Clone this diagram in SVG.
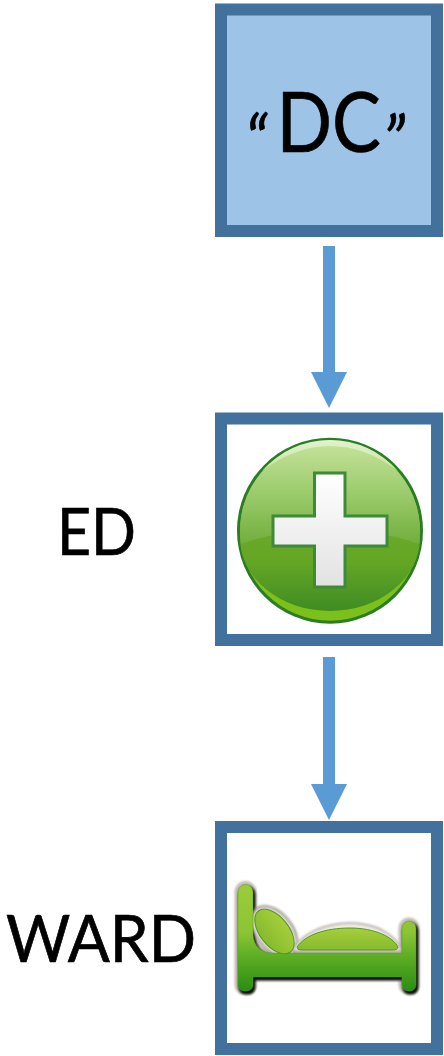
<svg xmlns="http://www.w3.org/2000/svg" width="444" height="1056" viewBox="0 0 444 1056">
<style>
.box{stroke:#41719c;stroke-width:12;fill:#fff}
.lbl{font-family:"Lato","Open Sans",sans-serif;fill:#000;stroke:#000;stroke-width:0.7}
.arrow{fill:#5b9bd5}
</style>
<defs>
<linearGradient id="top" x1="0" y1="0" x2="0" y2="1"><stop offset="0" stop-color="#c6e49c"/><stop offset="0.55" stop-color="#98c968"/><stop offset="1" stop-color="#72ae3c"/></linearGradient>
<linearGradient id="high" x1="0" y1="0" x2="0" y2="1"><stop offset="0" stop-color="#e2f1cf"/><stop offset="1" stop-color="#c8e5a0"/></linearGradient>
<linearGradient id="low" gradientUnits="userSpaceOnUse" x1="0" y1="530" x2="0" y2="611"><stop offset="0" stop-color="#6aa82a"/><stop offset="0.4" stop-color="#64a624"/><stop offset="1" stop-color="#3f8c24"/></linearGradient>
<linearGradient id="cross" x1="0" y1="0" x2="0" y2="1"><stop offset="0" stop-color="#fff"/><stop offset="1" stop-color="#e2e2e2"/></linearGradient>
<linearGradient id="bed" gradientUnits="userSpaceOnUse" x1="0" y1="885" x2="0" y2="991"><stop offset="0" stop-color="#9ccc3a"/><stop offset="0.45" stop-color="#8cc434"/><stop offset="0.65" stop-color="#62b026"/><stop offset="1" stop-color="#2b8c12"/></linearGradient>
<linearGradient id="soft" x1="0" y1="0" x2="0" y2="1"><stop offset="0" stop-color="#a6cf3c"/><stop offset="1" stop-color="#86ba2c"/></linearGradient>
<filter id="blur" x="-10%" y="-10%" width="120%" height="120%"><feGaussianBlur stdDeviation="1"/></filter>
<filter id="soften" x="-5%" y="-5%" width="110%" height="110%"><feGaussianBlur stdDeviation="0.4"/></filter>
<path id="bedshape" d="M238 892a7.500 7.500 0 0 1 15 0V935Q255 953 273 953H402V928a7 7 0 0 1 14 0V985a6 6 0 0 1-6 6H408a6 6 0 0 1-6-6V977H253V985a6 6 0 0 1-6 6H244a6 6 0 0 1-6-6Z"/>
</defs>
<g id="connectors">
<path class="arrow" d="M323 246H335V372H347L329 408L311 372H323Z"/>
<path class="arrow" d="M323 657H335V784H347L329 820L311 784H323Z"/>
</g>
<g id="node-dc">
<rect class="box" x="221" y="9.500" width="216" height="221.500" style="fill:#9dc3e6"/>
<text class="lbl" transform="scale(.88 1)"><tspan x="278.400" y="167" font-size="72" font-style="italic">“</tspan><tspan x="314.200" y="152.500" font-size="83">DC</tspan><tspan x="435.200" y="167" font-size="72" font-style="italic">”</tspan></text>
</g>
<g id="node-ed">
<rect class="box" x="221" y="418.500" width="216" height="221.500"/>
<circle cx="330" cy="530.700" r="93" fill="#2a7d24"/>
<circle cx="330" cy="530.700" r="90" fill="#7cc01a"/>
<path d="M240 538A90 73 0 0 0 420 538A90 90 0 0 0 240 538Z" fill="url(#low)"/>
<path d="M241 544A90 90 0 1 1 419 544Q380 530 330 530T241 544Z" fill="url(#top)"/>
<path d="M262 471A90 90 0 0 1 398 471Q365 446 330 446T262 471Z" fill="url(#high)"/>
<path d="M314.500 473H345V516H387V546H345V587H314.500V546H273V516H314.500Z" fill="url(#cross)" stroke="#3f8a3a" stroke-width="3"/>
<text class="lbl" x="57" y="555" font-size="65" textLength="79" lengthAdjust="spacingAndGlyphs">ED</text>
</g>
<g id="node-ward">
<rect class="box" x="221" y="827" width="216" height="222"/>
<text class="lbl" x="6" y="962.300" font-size="65" textLength="190" lengthAdjust="spacingAndGlyphs">WARD</text>
<use href="#bedshape" fill="#d8d2cc" stroke="#c4bcb6" stroke-width="7" filter="url(#blur)"/>
<use href="#bedshape" fill="#111" stroke="#111" stroke-width="2" transform="translate(1.500 2.500)" filter="url(#blur)"/>
<ellipse cx="274.500" cy="931.500" rx="29" ry="18" transform="rotate(52 274.500 931.500)" fill="#e4deda" stroke="#9a928e" stroke-width="2" filter="url(#blur)"/>
<path d="M292 951C300 934 325 923 350 923C375 923 396 934 402 951Z" fill="#efeae6" stroke="#a8a09a" stroke-width="1.500" filter="url(#blur)"/>
<g filter="url(#soften)">
<use href="#bedshape" fill="url(#bed)" stroke="#4fa020" stroke-width="0.500"/>
<ellipse cx="274.500" cy="931.500" rx="26" ry="14.500" transform="rotate(52 274.500 931.500)" fill="url(#soft)" stroke="#4f9a1e" stroke-width="1"/>
<path d="M297 947C305 935 325 928 350 928C375 928 393 937 398 947Q398 950 393 950H301Q297 950 297 947Z" fill="url(#soft)" stroke="#4f9a1e" stroke-width="1"/>
</g>
</g>
</svg>
